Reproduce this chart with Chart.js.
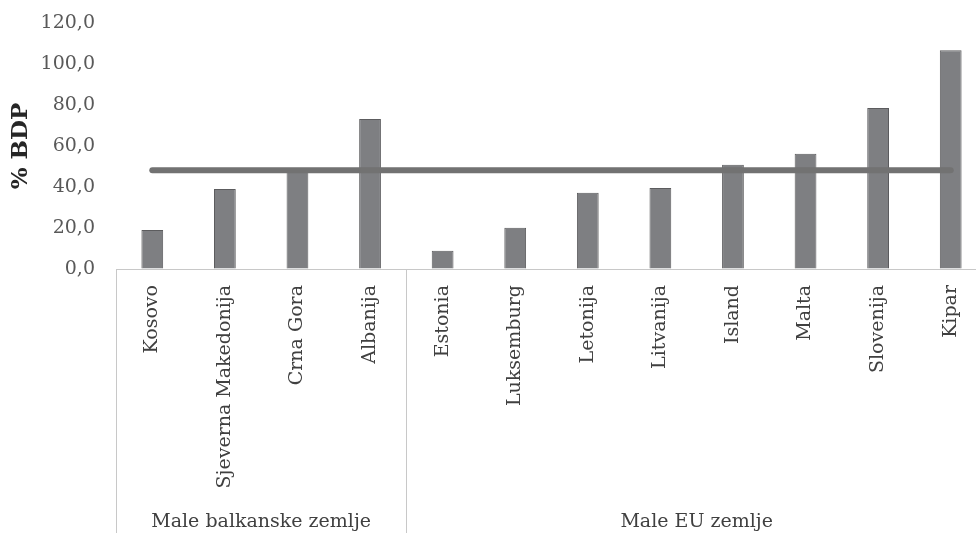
<!DOCTYPE html>
<html>
<head>
<meta charset="utf-8">
<title>Javni dug, % BDP</title>
<script src="https://cdn.jsdelivr.net/npm/chart.js@4.4.1/dist/chart.umd.min.js"></script>
<style>
  html, body { margin: 0; padding: 0; background: #ffffff; overflow: hidden; }
  #wrap { width: 990px; height: 533px; position: relative; }
</style>
</head>
<body>
<div id="wrap"><canvas id="chart" width="990" height="533"></canvas></div>
<script>
// Countries on the category axis
const categories = ['Kosovo', 'Sjeverna Makedonija', 'Crna Gora', 'Albanija',
  'Estonia', 'Luksemburg', 'Letonija', 'Litvanija', 'Island', 'Malta', 'Slovenija', 'Kipar'];

// Public debt, % of GDP
const debt = [19.0, 39.0, 47.5, 73.2, 8.9, 20.1, 37.2, 39.5, 50.9, 56.2, 78.5, 106.7];

// Average level drawn as a horizontal line
const average = [48.2, 48.2, 48.2, 48.2, 48.2, 48.2, 48.2, 48.2, 48.2, 48.2, 48.2, 48.2];

// Country groups under the axis
const groupNames = ['Male balkanske zemlje', 'Male EU zemlje'];
const groupSizes = [4, 8];

// Value axis ticks
const yTicks = [0, 20, 40, 60, 80, 100, 120];

const SERIF = '"DejaVu Serif", "Liberation Serif", serif';
const GRID = '#c8c8c8';

// Draws the group boxes and group names below the rotated country labels
const groupAxis = {
  id: 'groupAxis',
  afterDraw(chart) {
    const x = chart.scales.x;
    const ctx = chart.ctx;
    const bottom = chart.chartArea.bottom;
    const half = (x.getPixelForValue(1) - x.getPixelForValue(0)) / 2;
    ctx.save();
    ctx.strokeStyle = GRID;
    ctx.lineWidth = 1;
    ctx.fillStyle = '#404040';
    ctx.font = '19px ' + SERIF;
    ctx.textAlign = 'center';
    ctx.textBaseline = 'middle';
    let start = 0;
    groupNames.forEach((name, g) => {
      const end = start + groupSizes[g] - 1;
      const left = x.getPixelForValue(start) - half;
      const right = x.getPixelForValue(end) + half;
      [left, right].forEach(px => {
        ctx.beginPath();
        ctx.moveTo(Math.round(px) + 0.5, bottom);
        ctx.lineTo(Math.round(px) + 0.5, chart.height);
        ctx.stroke();
      });
      ctx.fillText(name, (left + right) / 2, 522);
      start = end + 1;
    });
    ctx.restore();
  }
};

new Chart(document.getElementById('chart'), {
  data: {
    labels: categories,
    datasets: [
      {
        type: 'line',
        data: average,
        borderColor: '#727272',
        borderWidth: 6,
        borderCapStyle: 'round',
        pointRadius: 0,
        order: 0
      },
      {
        type: 'bar',
        data: debt,
        backgroundColor: '#7e7f82',
        borderColor: '#5c5c5e',
        borderWidth: 1,
        categoryPercentage: 1,
        barPercentage: 0.30,
        order: 1
      }
    ]
  },
  options: {
    responsive: false,
    animation: false,
    layout: { padding: { left: 7, right: 3, top: 23, bottom: 0 } },
    plugins: {
      legend: { display: false },
      tooltip: { enabled: false }
    },
    scales: {
      x: {
        type: 'category',
        grid: { display: false, drawTicks: false },
        border: { display: true, color: GRID, width: 1 },
        ticks: {
          autoSkip: false,
          minRotation: 90,
          maxRotation: 90,
          padding: 16,
          color: '#404040',
          font: { family: SERIF, size: 19 }
        },
        afterFit(scale) { scale.height = 264; }
      },
      y: {
        min: 0,
        max: 120,
        afterBuildTicks(scale) { scale.ticks = yTicks.map(v => ({ value: v })); },
        // invisible tick marks keep the labels away from the plot
        grid: { display: true, drawOnChartArea: false, drawTicks: true, tickLength: 21, tickColor: 'rgba(0,0,0,0)' },
        border: { display: false },
        ticks: {
          padding: 0,
          color: '#595959',
          font: { family: SERIF, size: 19 },
          callback: v => v.toFixed(1).replace('.', ',')
        },
        title: {
          display: true,
          text: '% BDP',
          color: '#262626',
          font: { family: SERIF, size: 23, weight: 'bold' },
          padding: { top: 0, bottom: 10 }
        },
        afterFit(scale) { scale.width = 109; }
      }
    }
  },
  plugins: [groupAxis]
});
</script>
</body>
</html>
